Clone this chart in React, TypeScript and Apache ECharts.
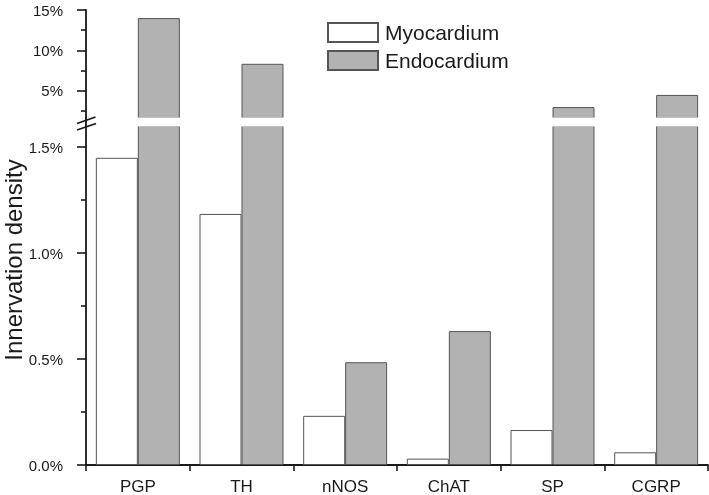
import React, { useEffect, useRef } from "react";
import * as echarts from "echarts";

const categories = ["PGP", "TH", "nNOS", "ChAT", "SP", "CGRP"];
const myocardium = [1.45, 1.185, 0.232, 0.03, 0.165, 0.06];
const endocardium = [14.0, 8.35, 0.485, 0.632, 3.0, 4.5];
const upperLabels = [5, 10, 15];
const upperMinor = [2.5, 7.5, 12.5];
const lowerLabels = [0, 0.5, 1.0, 1.5];
const lowerMinor = [0.25, 0.75, 1.25];

const FONT = "'Liberation Sans', Arial, Helvetica, sans-serif";
const INK = "#1a1a1a";
const BORDER = "#555555";
const GRAY = "#b2b2b2";

export default function App() {
  const ref = useRef<HTMLDivElement>(null);
  useEffect(() => {
    if (!ref.current) return;
    const chart = echarts.init(ref.current, null, { renderer: "svg" });
    const upperMin = 1.65;
    const upperMax = 15;
    const lowerMax = 1.6;
    const mainAxis = (grid: number, min: number, max: number, vals: number[], fmt: (v: number) => string) => ({
      type: "value",
      gridIndex: grid,
      position: "left",
      min,
      max,
      axisLine: { show: true, lineStyle: { color: INK, width: 1.8 } },
      axisTick: { show: true, inside: false, length: 9, customValues: vals, lineStyle: { color: INK, width: 1.6 } },
      axisLabel: { show: true, margin: 23, customValues: vals, formatter: fmt, color: INK, fontSize: 15, fontFamily: FONT },
      splitLine: { show: false },
    });
    const minorAxis = (grid: number, min: number, max: number, vals: number[]) => ({
      type: "value",
      gridIndex: grid,
      position: "left",
      offset: 0,
      min,
      max,
      axisLine: { show: false },
      axisTick: { show: true, inside: false, length: 5, customValues: vals, lineStyle: { color: INK, width: 1.6 } },
      axisLabel: { show: false },
      splitLine: { show: false },
    });
    const myoStyle = { color: "#ffffff", borderColor: BORDER, borderWidth: 1 };
    const endoStyle = { color: GRAY, borderColor: BORDER, borderWidth: 1 };
    chart.setOption({
      animation: false,
      grid: [
        { left: 86, right: 1, top: 10, height: 108, containLabel: false, outerBoundsMode: "none" },
        { left: 86, right: 1, top: 126, height: 339, containLabel: false, outerBoundsMode: "none" },
      ],
      legend: {
        orient: "vertical",
        left: 327,
        top: 22,
        padding: 0,
        icon: "rect",
        itemWidth: 50,
        itemHeight: 19,
        itemGap: 7,
        data: ["Myocardium", "Endocardium"],
        textStyle: { fontSize: 21, color: INK, fontFamily: FONT, padding: [0, 0, 0, 2] },
      },
      xAxis: [
        { type: "category", gridIndex: 0, data: categories, show: false },
        {
          type: "category",
          gridIndex: 1,
          data: categories,
          axisLine: { show: true, lineStyle: { color: INK, width: 1.8 } },
          axisTick: { show: true, inside: false, length: 6, lineStyle: { color: INK, width: 1.6 } },
          axisLabel: { color: INK, fontSize: 17, fontFamily: FONT, margin: 13 },
        },
      ],
      yAxis: [
        mainAxis(0, upperMin, upperMax, upperLabels, (v: number) => `${Math.round(v)}%`),
        minorAxis(0, upperMin, upperMax, upperMinor),
        mainAxis(1, 0, lowerMax, lowerLabels, (v: number) => `${v.toFixed(1)}%`),
        minorAxis(1, 0, lowerMax, lowerMinor),
      ],
      series: [
        { name: "Myocardium", type: "bar", xAxisIndex: 0, yAxisIndex: 0, data: myocardium, barWidth: "40.5%", barGap: "0%", itemStyle: myoStyle, clip: true },
        { name: "Endocardium", type: "bar", xAxisIndex: 0, yAxisIndex: 0, data: endocardium, barWidth: "40.5%", barGap: "0%", itemStyle: endoStyle, clip: true },
        { name: "Myocardium", type: "bar", xAxisIndex: 1, yAxisIndex: 2, data: myocardium, barWidth: "40.5%", barGap: "0%", itemStyle: myoStyle, clip: true },
        { name: "Endocardium", type: "bar", xAxisIndex: 1, yAxisIndex: 2, data: endocardium, barWidth: "40.5%", barGap: "0%", itemStyle: endoStyle, clip: true },
      ],
      graphic: [
        { type: "rect", z: 50, shape: { x: 87.5, y: 117.4, width: 621, height: 9.2 }, style: { fill: "#ffffff" } },
        { type: "line", z: 100, shape: { x1: 86, y1: 117, x2: 86, y2: 127 }, style: { stroke: INK, lineWidth: 1.8 } },
        { type: "line", z: 101, shape: { x1: 77, y1: 123.5, x2: 95.5, y2: 117 }, style: { stroke: INK, lineWidth: 1.8 } },
        { type: "line", z: 101, shape: { x1: 77, y1: 130, x2: 96, y2: 123.5 }, style: { stroke: INK, lineWidth: 1.8 } },
        {
          type: "text",
          z: 100,
          x: 13,
          y: 260,
          rotation: Math.PI / 2,
          style: { text: "Innervation density", fontSize: 24, fontFamily: FONT, fill: INK, align: "center", verticalAlign: "middle" },
        },
      ],
    });
    return () => chart.dispose();
  }, []);
  return <div ref={ref} style={{ position: "fixed", left: 0, top: 0, width: 709, height: 495 }} />;
}
